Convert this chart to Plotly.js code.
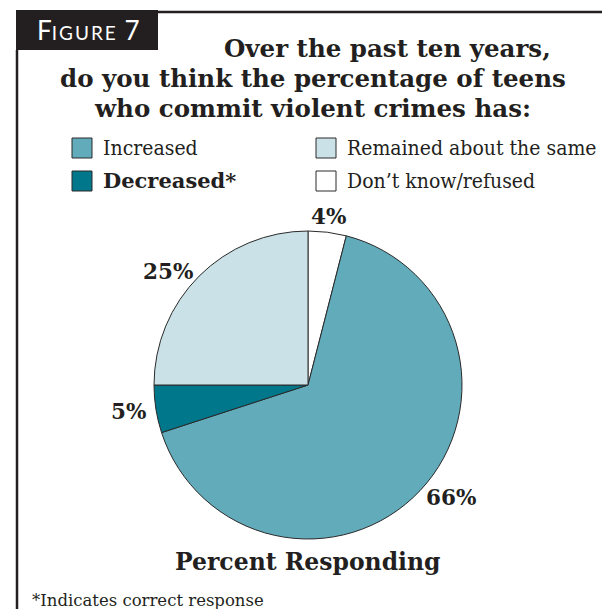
<!DOCTYPE html>
<html>
<head>
<meta charset="utf-8">
<script src="https://cdn.plot.ly/plotly-3.0.1.min.js"></script>
<style>html,body{margin:0;padding:0;background:#fff;}#chart{width:602px;height:609px;}</style>
</head>
<body>
<div id="chart"></div>
<script>
// Data (slice order clockwise from 12 o'clock)
const sliceLabels = ["Don’t know/refused", "Increased", "Decreased*", "Remained about the same"];
const sliceValues = [4, 66, 5, 25];
const sliceColors = ["#ffffff", "#62abbb", "#00778a", "#c9e1e7"];

// Legend order as printed
const legendLabels = ["Increased", "Remained about the same", "Decreased*", "Don’t know/refused"];
const legendColors = ["#62abbb", "#c9e1e7", "#00778a", "#ffffff"];
const legendBold = [false, false, true, false];

const titleLines = ["Over the past ten years,", "do you think the percentage of teens", "who commit violent crimes has:"];

const W = 602, H = 609;
const px = x => x / W;
const py = y => 1 - y / H;
const SERIF = "DejaVu Serif, Liberation Serif, serif";
const SERIF_C = "DejaVu Serif Condensed, DejaVu Serif, serif";

const cx = 308, cy = 385, r = 154;

const trace = {
  type: "pie",
  labels: sliceLabels,
  values: sliceValues,
  sort: false,
  direction: "clockwise",
  rotation: 0,
  marker: { colors: sliceColors, line: { color: "#2a2a2a", width: 1 } },
  textinfo: "none",
  showlegend: false,
  domain: { x: [px(cx - r), px(cx + r)], y: [py(cy + r), py(cy - r)] }
};

const annotations = [];
const shapes = [];

// Figure label box and frame
shapes.push({ type: "rect", xref: "paper", yref: "paper", x0: px(16), x1: px(158), y0: py(50), y1: py(10), fillcolor: "#231f20", line: { width: 0 } });
shapes.push({ type: "line", xref: "paper", yref: "paper", x0: px(158), x1: px(602), y0: py(12), y1: py(12), line: { color: "#231f20", width: 2.5 } });
shapes.push({ type: "line", xref: "paper", yref: "paper", x0: px(17), x1: px(17), y0: py(50), y1: py(609), line: { color: "#231f20", width: 2.5 } });

annotations.push({
  xref: "paper", yref: "paper", x: px(35), y: py(30), xanchor: "left", yanchor: "middle", showarrow: false,
  text: "F<span style='font-size:19px;letter-spacing:2px'>IGURE</span> 7",
  font: { family: "Lato, Open Sans, sans-serif", size: 26, color: "#ffffff" }
});

// Title lines
const titleX = [387, 313, 312];
const titleY = [48, 78, 108];
titleLines.forEach((t, i) => {
  annotations.push({
    xref: "paper", yref: "paper", x: px(titleX[i]), y: py(titleY[i]), xanchor: "center", yanchor: "middle", showarrow: false,
    text: "<b>" + t + "</b>", font: { family: SERIF, size: 24.5, color: "#231f20" }
  });
});

// Legend
const legX = [72, 316, 72, 316];
const legY = [148, 148, 181, 181];
legendLabels.forEach((t, i) => {
  shapes.push({ type: "rect", xref: "paper", yref: "paper", x0: px(legX[i]), x1: px(legX[i] + 20), y0: py(legY[i] + 10), y1: py(legY[i] - 10),
    fillcolor: legendColors[i], line: { color: "#2a2a2a", width: 1 } });
  annotations.push({
    xref: "paper", yref: "paper", x: px(legX[i] + 29), y: py(legY[i]), xanchor: "left", yanchor: "middle", showarrow: false,
    text: legendBold[i] ? "<b>" + t + "</b>" : t,
    font: { family: legendBold[i] ? SERIF : SERIF_C, size: 21, color: "#231f20" }
  });
});

// Percentage labels
const pctPos = [[328, 216], [451, 497], [128, 412], [168, 271]];
sliceValues.forEach((v, i) => {
  annotations.push({
    xref: "paper", yref: "paper", x: px(pctPos[i][0]), y: py(pctPos[i][1]), xanchor: "center", yanchor: "middle", showarrow: false,
    text: "<b>" + v + "%</b>", font: { family: SERIF, size: 21.5, color: "#231f20" }
  });
});

annotations.push({
  xref: "paper", yref: "paper", x: px(308), y: py(562), xanchor: "center", yanchor: "middle", showarrow: false,
  text: "<b>Percent Responding</b>", font: { family: SERIF, size: 23.5, color: "#231f20" }
});
annotations.push({
  xref: "paper", yref: "paper", x: px(30), y: py(600), xanchor: "left", yanchor: "middle", showarrow: false,
  text: "*Indicates correct response", font: { family: SERIF, size: 16.5, color: "#231f20" }
});

const layout = {
  width: W, height: H,
  margin: { l: 0, r: 0, t: 0, b: 0 },
  paper_bgcolor: "#ffffff",
  showlegend: false,
  annotations: annotations,
  shapes: shapes
};

Plotly.newPlot("chart", [trace], layout, { displayModeBar: false, staticPlot: true });
</script>
</body>
</html>
